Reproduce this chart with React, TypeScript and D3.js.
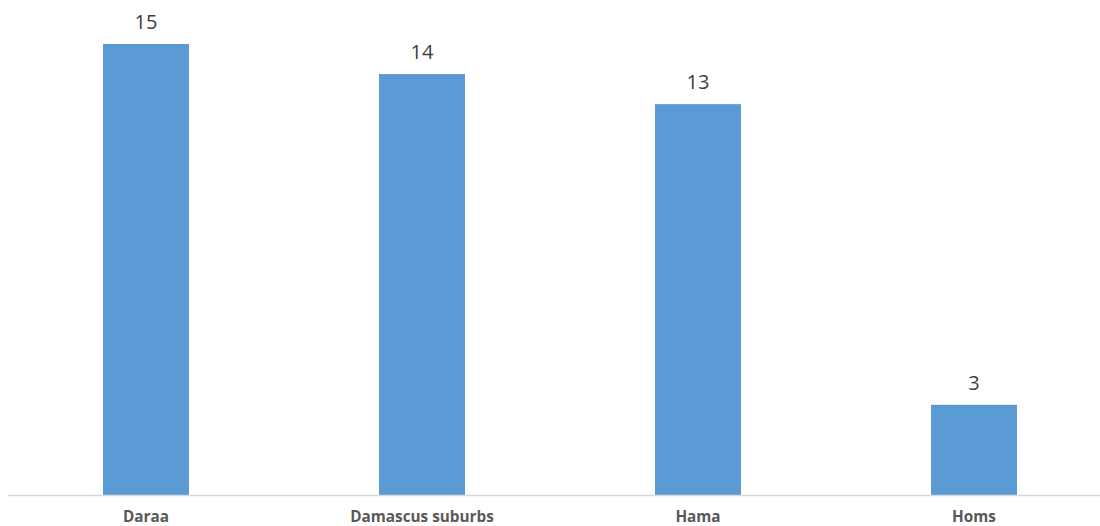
import React from "react";
import * as d3 from "d3";

const categories = ["Daraa", "Damascus suburbs", "Hama", "Homs"];
const values = [15, 14, 13, 3];

export default function App() {
  const width = 1100;
  const height = 526;
  const x = d3.scaleBand<string>().domain(categories).range([8, 1112]).paddingInner(0.6884).paddingOuter(0.3442);
  const y = d3.scaleLinear().domain([0, 15]).range([495, 44]);
  return (
    <svg width={width} height={height} style={{ position: "absolute", left: 0, top: 0 }}>
      <rect width={width} height={height} fill="#ffffff" />
      {categories.map((c, i) => (
        <rect key={c} x={x(c)} y={y(values[i])} width={x.bandwidth()} height={y(0) - y(values[i])} fill="#5B9BD5" />
      ))}
      <line x1={8} x2={1100} y1={495.5} y2={495.5} stroke="#D9D9D9" strokeWidth={1.5} />
      {categories.map((c, i) => (
        <text key={"v" + c} x={(x(c) ?? 0) + x.bandwidth() / 2} y={y(values[i]) - 15} textAnchor="middle"
          fontFamily="'Open Sans', sans-serif" fontSize={20} fill="#404040">{values[i]}</text>
      ))}
      {categories.map((c) => (
        <text key={"c" + c} x={(x(c) ?? 0) + x.bandwidth() / 2} y={522} textAnchor="middle"
          fontFamily="'Open Sans', sans-serif" fontWeight="bold" fontSize={15.3} fill="#595959">{c}</text>
      ))}
    </svg>
  );
}
